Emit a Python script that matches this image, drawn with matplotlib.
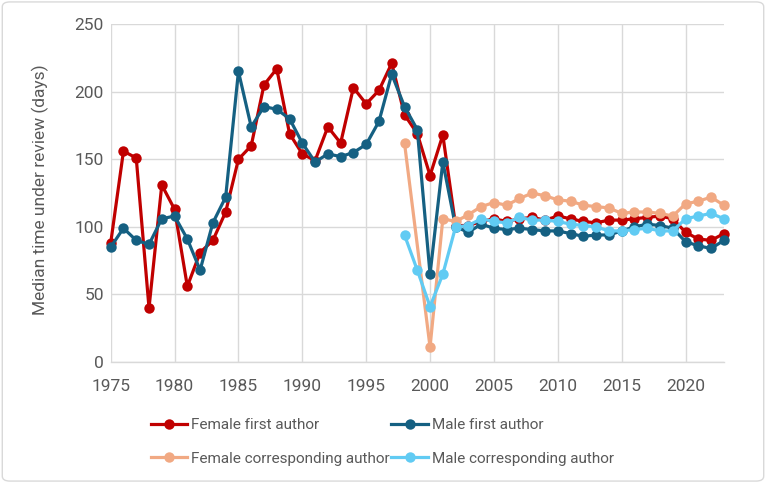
import numpy as np
import matplotlib
matplotlib.use("Agg")
import matplotlib.pyplot as plt
from matplotlib.patches import FancyBboxPatch

plt.rcParams['font.family'] = ['Roboto', 'DejaVu Sans']

years = list(range(1975, 2024))

female_first = [88, 156, 151, 40, 131, 113, 56, 81, 90, 111,
                150, 160, 205, 217, 169, 154, 149, 174, 162, 203,
                191, 201, 221, 183, 169, 138, 168, 101, 101, 104,
                106, 104, 106, 107, 105, 108, 106, 104, 103, 105,
                105, 106, 107, 108, 106, 96, 91, 90, 95]

male_first = [85, 99, 90, 87, 106, 108, 91, 68, 103, 122,
              215, 174, 189, 187, 180, 162, 148, 154, 152, 155,
              161, 178, 213, 189, 172, 65, 148, 100, 96, 102,
              99, 98, 99, 98, 97, 97, 95, 93, 94, 94,
              97, 100, 102, 101, 99, 89, 86, 84, 90]

nan = np.nan
female_corr = [nan] * 23 + [162, nan, 11, 106, 104, 109, 115,
                            118, 116, 121, 125, 123, 120, 119, 116, 115, 114,
                            110, 111, 111, 110, 108, 117, 119, 122, 116]

male_corr = [nan] * 23 + [94, 68, 41, 65, 100, 101, 106,
                          104, 103, 107, 105, 105, 104, 102, 101, 100, 97,
                          97, 98, 99, 97, 97, 106, 108, 110, 106]

series_names = ["Female first author", "Male first author",
                "Female corresponding author", "Male corresponding author"]
series_colors = ["#C00000", "#156082", "#F1A983", "#61CBF3"]
series_values = [female_first, male_first, female_corr, male_corr]

x_ticks = list(range(1975, 2021, 5))
y_ticks = list(range(0, 251, 50))

fig = plt.figure(figsize=(7.66, 4.83), dpi=100)
ax = fig.add_axes([0.1445, 0.2505, 0.8005, 0.6995])

text_color = "#595959"
grid_color = "#D9D9D9"

handles = []
for name, col, vals in zip(series_names, series_colors, series_values):
    yv = np.array(vals, dtype=float)
    xv = np.array(years, dtype=float)
    m = ~np.isnan(yv)
    h, = ax.plot(xv[m], yv[m], color=col, lw=2.3, marker='o', ms=7.5,
                 markeredgewidth=0, label=name, solid_joinstyle='round',
                 clip_on=False)
    handles.append(h)

ax.set_xlim(1975, 2023)
ax.set_ylim(0, 250)
ax.set_xticks(x_ticks)
ax.set_yticks(y_ticks)
ax.grid(True, color=grid_color, lw=1.0)
ax.set_axisbelow(True)
for s in ['top', 'right', 'left']:
    ax.spines[s].set_visible(False)
ax.spines['bottom'].set_color(grid_color)
ax.spines['bottom'].set_linewidth(1.0)
ax.tick_params(axis='both', length=0, labelsize=12.5, colors=text_color)
ax.tick_params(axis='x', pad=12)
ax.tick_params(axis='y', pad=5)

fig.text(40 / 766, 1 - 190 / 483, "Median time under review (days)",
         rotation=90, ha='center', va='center', fontsize=12.5, color=text_color)

# legend rows: Female first / Male first ; Female corr / Male corr
order = [0, 2, 1, 3]
leg = fig.legend(handles=[handles[i] for i in order], loc='upper left',
                 bbox_to_anchor=(150.7 / 766, 1 - 418 / 483),
                 ncol=2, frameon=False, fontsize=11, handlelength=2.4,
                 handletextpad=0.26, columnspacing=0.1, labelspacing=1.28,
                 borderaxespad=0, borderpad=0)
for t in leg.get_texts():
    t.set_color(text_color)

border = FancyBboxPatch((0.003, 0.004), 0.994, 0.992, boxstyle="round,pad=0,rounding_size=0.01",
                        transform=fig.transFigure, fill=False, edgecolor=grid_color, lw=1.0)
fig.patches.append(border)

fig.savefig("out.png", dpi=100)
